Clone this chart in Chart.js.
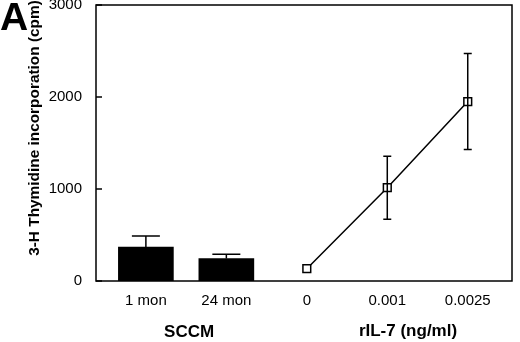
<!DOCTYPE html>
<html>
<head>
<meta charset="utf-8">
<script src="https://cdn.jsdelivr.net/npm/chart.js@4"></script>
<style>
  html, body { margin: 0; padding: 0; background: #fff; }
  #wrap { width: 520px; height: 342px; position: relative; }
</style>
</head>
<body>
<div id="wrap"><canvas id="chart"></canvas></div>
<script>
// data
const xLabels = ['1 mon', '24 mon', '0', '0.001', '0.0025'];
const sccmValues = [370, 245];
const sccmErr = [120, 45];
const doseValues = [134, 1014, 1950];
const doseErr = [0, 342, 522];
const yTicks = [0, 1000, 2000, 3000];

const FONT = 'Arial, "Liberation Sans", Helvetica, sans-serif';

// error bars + frame + extra texts
const decorPlugin = {
  id: 'decor',
  afterDatasetsDraw(chart) {
    const ctx = chart.ctx;
    const x = chart.scales.x, y = chart.scales.y;
    ctx.save();
    ctx.strokeStyle = '#000';
    ctx.lineWidth = 1.5;
    // bar error bars (upward only)
    sccmValues.forEach((v, i) => {
      const px = x.getPixelForValue(i);
      const top = y.getPixelForValue(v + sccmErr[i]);
      ctx.beginPath();
      ctx.moveTo(px, y.getPixelForValue(v));
      ctx.lineTo(px, top);
      ctx.moveTo(px - 14, top);
      ctx.lineTo(px + 14, top);
      ctx.stroke();
    });
    // dose error bars
    doseValues.forEach((v, i) => {
      if (!doseErr[i]) return;
      const px = x.getPixelForValue(i + 2);
      const hi = y.getPixelForValue(v + doseErr[i]);
      const lo = y.getPixelForValue(v - doseErr[i]);
      ctx.beginPath();
      ctx.moveTo(px, hi); ctx.lineTo(px, lo);
      ctx.moveTo(px - 4, hi); ctx.lineTo(px + 4, hi);
      ctx.moveTo(px - 4, lo); ctx.lineTo(px + 4, lo);
      ctx.stroke();
    });
    ctx.restore();
  },
  afterDraw(chart) {
    const ctx = chart.ctx;
    const a = chart.chartArea;
    const x = chart.scales.x, y = chart.scales.y;
    ctx.save();
    ctx.strokeStyle = '#000';
    ctx.lineWidth = 1.5;
    ctx.strokeRect(a.left, a.top, a.right - a.left, a.bottom - a.top);
    // inward ticks on y axis
    yTicks.forEach(t => {
      const py = y.getPixelForValue(t);
      ctx.beginPath();
      ctx.moveTo(a.left, py);
      ctx.lineTo(a.left + 6, py);
      ctx.stroke();
    });
    ctx.fillStyle = '#000';
    // panel letter
    ctx.font = 'bold 39px ' + FONT;
    ctx.textAlign = 'left';
    ctx.textBaseline = 'top';
    ctx.fillText('A', 0, 0);
    // x titles
    ctx.font = 'bold 17px ' + FONT;
    ctx.textAlign = 'center';
    ctx.textBaseline = 'middle';
    ctx.fillText('SCCM', (x.getPixelForValue(0) + x.getPixelForValue(1)) / 2 + 3, 332);
    ctx.fillText('rIL-7 (ng/ml)', 408, 331);
    // y title
    ctx.translate(35, 128);
    ctx.rotate(-Math.PI / 2);
    ctx.font = 'bold 15.4px ' + FONT;
    ctx.fillText('3-H Thymidine incorporation (cpm)', 0, 0);
    ctx.restore();
  }
};

new Chart(document.getElementById('chart'), {
  type: 'bar',
  data: {
    datasets: [
      {
        type: 'bar',
        data: sccmValues.map((v, i) => ({ x: i, y: v })),
        backgroundColor: '#000',
        borderWidth: 0,
        barThickness: 55
      },
      {
        type: 'line',
        data: doseValues.map((v, i) => ({ x: i + 2, y: v })),
        borderColor: '#000',
        borderWidth: 1.5,
        pointStyle: 'rect',
        pointRadius: 5.5,
        pointBorderWidth: 1.5,
        pointBackgroundColor: '#fff',
        pointBorderColor: '#000',
        tension: 0
      }
    ]
  },
  options: {
    responsive: true,
    maintainAspectRatio: false,
    animation: false,
    layout: { padding: { top: 5, right: 8, left: 0, bottom: 0 }, autoPadding: false },
    plugins: {
      legend: { display: false },
      tooltip: { enabled: false }
    },
    scales: {
      x: {
        type: 'linear',
        offset: false,
        min: -0.62,
        max: 4.55,
        grid: { display: false, drawTicks: false, offset: false },
        border: { display: false },
        afterBuildTicks: s => { s.ticks = xLabels.map((l, i) => ({ value: i })); },
        afterFit: s => { s.height = 61; s.paddingLeft = 0; s.paddingRight = 0; },
        ticks: {
          autoSkip: false,
          maxRotation: 0,
          padding: 11,
          color: '#000',
          font: { family: FONT, size: 15 },
          callback: (v) => xLabels[v]
        }
      },
      y: {
        min: 0,
        max: 3000,
        grid: { display: false, drawTicks: false },
        border: { display: false },
        afterBuildTicks: s => { s.ticks = yTicks.map(v => ({ value: v })); },
        afterFit: s => { s.width = 96; s.paddingTop = 0; s.paddingBottom = 0; },
        ticks: {
          padding: 14,
          color: '#000',
          font: { family: FONT, size: 15 },
          callback: (v) => String(v)
        }
      }
    }
  },
  plugins: [decorPlugin]
});
</script>
</body>
</html>
